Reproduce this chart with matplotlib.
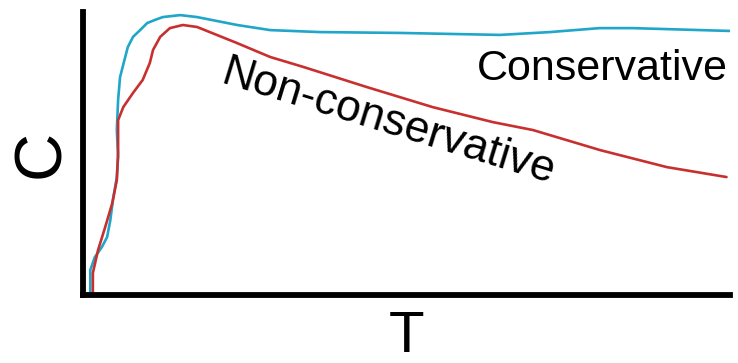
import matplotlib.pyplot as plt

# curve data (T and C in arbitrary units, 0-100)
cons_t = [1.2, 1.2, 1.9, 3.0, 3.8, 4.3, 4.7, 5.3, 5.5, 5.3, 5.5, 5.8, 6.6, 7.0, 7.8, 8.9,
          10.0, 11.2, 12.4, 15.1, 17.7, 23.9, 29.0, 36.7, 49.0, 64.5, 72.2, 79.9, 85.0, 100.0]
cons_c = [1.1, 8.8, 13.4, 17.0, 20.5, 26.5, 33.6, 41.7, 48.8, 58.3, 68.9, 77.0, 84.1, 87.6, 91.2, 93.6,
          96.1, 97.2, 98.2, 98.9, 98.2, 95.4, 93.6, 92.9, 92.6, 91.9, 92.9, 94.3, 94.3, 93.3]

noncons_t = [1.6, 1.6, 2.4, 3.5, 4.6, 5.3, 5.5, 5.5, 6.3, 7.8, 9.3, 10.4, 10.9, 12.0,
             13.5, 15.5, 17.7, 23.9, 29.0, 34.1, 43.9, 54.1, 63.4, 69.6, 80.0, 90.3, 99.5]
noncons_c = [1.1, 7.8, 15.9, 24.0, 32.5, 40.6, 50.2, 61.8, 66.4, 71.4, 76.0, 82.0, 86.6, 91.2,
             94.3, 95.4, 94.7, 89.0, 84.1, 80.6, 73.5, 66.4, 61.1, 58.3, 51.2, 45.2, 41.7]

CYAN = '#1fa6c8'
RED = '#c8302f'
FONT = ['Liberation Sans', 'DejaVu Sans']

fig = plt.figure(figsize=(7.38, 3.63), dpi=100)
ax = fig.add_axes([0.1118, 0.187, 0.877, 0.78])

ax.plot(cons_t, cons_c, color=CYAN, linewidth=1.9,
        solid_capstyle='round', solid_joinstyle='round')
ax.plot(noncons_t, noncons_c, color=RED, linewidth=1.9,
        solid_capstyle='round', solid_joinstyle='round')

ax.set_xlim(0, 100)
ax.set_ylim(0, 100)

for side in ['top', 'right']:
    ax.spines[side].set_visible(False)
for side in ['left', 'bottom']:
    ax.spines[side].set_linewidth(4.2)
    ax.spines[side].set_color('black')
ax.set_xticks([])
ax.set_yticks([])

ax.text(99.7, 76, 'Conservative', ha='right', va='baseline',
        fontsize=31, family=FONT)
ax.text(47.3, 61, 'Non-conservative', ha='center', va='center',
        rotation=-17, rotation_mode='anchor', fontsize=32, family=FONT)

ax.set_xlabel('T', fontsize=42, family=FONT, labelpad=11)
ax.set_ylabel('C', fontsize=48, family=FONT, labelpad=7)

fig.savefig('out.png', dpi=100)
